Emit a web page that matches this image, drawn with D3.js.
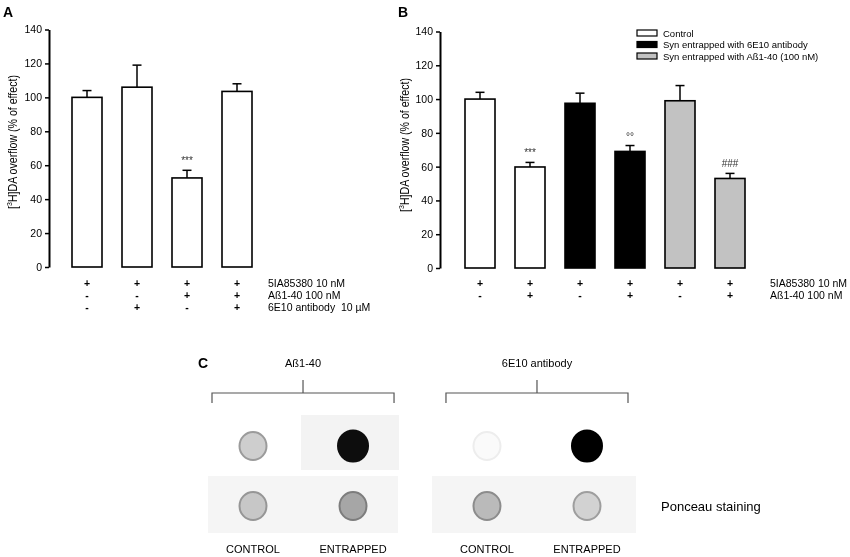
<!DOCTYPE html>
<html lang="en">
<head>
    <meta charset="UTF-8">
    <title>Figure</title>
    <script src="https://d3js.org/d3.v7.min.js"></script>
    <style>
        body {margin: 0; background: white;}
        svg {font-family: Arial, "Liberation Sans", sans-serif; will-change: transform;}
        text {fill: #000;}
    </style>
</head>
<body>
<script>
    const width = 850;
    const height = 557;

    // panel A
    const aBars = ["c1", "c2", "c3", "c4"];
    const aMeans = [100, 106, 52.5, 103.5];
    const aErrors = [4, 13, 4.5, 4.5];
    const aStars = ["", "", "***", ""];
    const aRowLabels = ["5IA85380 10 nM", "Aß1-40 100 nM", "6E10 antibody  10 µM"];
    const aRows = [
        ["+", "+", "+", "+"],
        ["-", "-", "+", "+"],
        ["-", "+", "-", "+"]
    ];

    // panel B
    const bBars = ["b1", "b2", "b3", "b4", "b5", "b6"];
    const bMeans = [100, 59.8, 97.5, 69, 99, 53];
    const bErrors = [4, 2.7, 6, 3.5, 9, 3];
    const bGroup = [0, 0, 1, 1, 2, 2];
    const bStars = ["", "***", "", "°°", "", "###"];
    const bRowLabels = ["5IA85380 10 nM", "Aß1-40 100 nM"];
    const bRows = [
        ["+", "+", "+", "+", "+", "+"],
        ["-", "+", "-", "+", "-", "+"]
    ];
    const legendLabels = ["Control", "Syn entrapped with 6E10 antibody", "Syn entrapped with Aß1-40 (100 nM)"];
    const groupFills = ["#ffffff", "#000000", "#c2c2c2"];

    const yTicks = [0, 20, 40, 60, 80, 100, 120, 140];

    // panel C (dot blot)
    const blotGroups = ["Aß1-40", "6E10 antibody"];
    const blotLanes = ["CONTROL", "ENTRAPPED"];
    const blotTop = [[0.3, 0.95], [0.04, 1.0]];      // signal intensity
    const blotBottom = [[0.33, 0.45], [0.38, 0.28]]; // Ponceau staining

    const svg = d3.select("body").append("svg")
            .attr("width", width).attr("height", height);
    const defs = svg.append("defs");
    defs.append("filter").attr("id", "soft")
            .append("feGaussianBlur").attr("stdDeviation", 0.7);

    function barPanel(opt) {
        const g = svg.append("g");
        const x = d3.scaleBand().domain(opt.bars).range(opt.xRange)
                .paddingInner(0.4).paddingOuter(0.2);
        const y = d3.scaleLinear().domain([0, 140]).range(opt.yRange);

        const axis = g.append("g")
                .attr("transform", `translate(${opt.axisX},0)`)
                .call(d3.axisLeft(y).tickValues(yTicks).tickSize(4).tickSizeOuter(0).tickPadding(3));
        axis.select(".domain").attr("stroke-width", 2);
        axis.selectAll(".tick line").attr("stroke-width", 1.5);
        axis.selectAll("text").attr("font-size", 10.5).attr("fill", "#000");

        // y title
        const t = g.append("text")
                .attr("transform", `translate(${opt.titleX},${opt.titleY}) rotate(-90)`)
                .attr("text-anchor", "middle").attr("font-size", 12)
                .attr("textLength", 134).attr("lengthAdjust", "spacingAndGlyphs");
        t.append("tspan").text("[");
        t.append("tspan").text("3").attr("font-size", 8).attr("dy", -5);
        t.append("tspan").text("H]DA overflow (% of effect)").attr("dy", 5);

        // error bars (upper only)
        opt.bars.forEach((b, i) => {
            const cx = x(b) + x.bandwidth() / 2;
            const top = y(opt.means[i] + opt.errors[i]);
            g.append("line").attr("x1", cx).attr("x2", cx)
                    .attr("y1", y(opt.means[i])).attr("y2", top)
                    .attr("stroke", "#000").attr("stroke-width", 1.5);
            g.append("line").attr("x1", cx - 4.5).attr("x2", cx + 4.5)
                    .attr("y1", top).attr("y2", top)
                    .attr("stroke", "#000").attr("stroke-width", 1.5);
            if (opt.stars[i]) {
                g.append("text").attr("x", cx).attr("y", top - 6)
                        .attr("text-anchor", "middle").attr("font-size", 10)
                        .style("fill", "#333").text(opt.stars[i]);
            }
        });

        g.selectAll("rect.bar").data(opt.bars).enter()
                .append("rect").attr("class", "bar")
                .attr("x", d => x(d))
                .attr("width", x.bandwidth())
                .attr("y", (d, i) => y(opt.means[i]))
                .attr("height", (d, i) => y(0) - y(opt.means[i]))
                .attr("fill", (d, i) => opt.fill(i))
                .attr("stroke", "#000").attr("stroke-width", 1.6);

        // treatment rows
        opt.rows.forEach((row, r) => {
            const ry = opt.rowY + r * 12;
            row.forEach((s, i) => {
                g.append("text").attr("x", x(opt.bars[i]) + x.bandwidth() / 2).attr("y", ry)
                        .attr("text-anchor", "middle").attr("font-size", 10.5)
                        .attr("font-weight", "bold").text(s);
            });
            g.append("text").attr("x", opt.labelX).attr("y", ry)
                    .attr("font-size", 10.5).style("white-space", "pre")
                    .text(opt.rowLabels[r]);
        });

        g.append("text").attr("x", opt.letterX).attr("y", 17)
                .attr("font-size", 14).attr("font-weight", "bold").text(opt.letter);
        return g;
    }

    barPanel({
        bars: aBars, means: aMeans, errors: aErrors, stars: aStars,
        rows: aRows, rowLabels: aRowLabels,
        xRange: [62, 262], yRange: [267, 29.5], axisX: 49,
        titleX: 17, titleY: 142, rowY: 287, labelX: 268,
        letter: "A", letterX: 3, fill: () => "#ffffff"
    });

    const gB = barPanel({
        bars: bBars, means: bMeans, errors: bErrors, stars: bStars,
        rows: bRows, rowLabels: bRowLabels,
        xRange: [455, 755], yRange: [268, 31.5], axisX: 440,
        titleX: 409, titleY: 145, rowY: 287, labelX: 770,
        letter: "B", letterX: 398, fill: i => groupFills[bGroup[i]]
    });

    // legend
    legendLabels.forEach((l, i) => {
        const ly = 33 + i * 11.5;
        gB.append("rect").attr("x", 637).attr("y", ly - 3).attr("width", 20).attr("height", 6)
                .attr("fill", groupFills[i]).attr("stroke", "#000").attr("stroke-width", 1.2);
        gB.append("text").attr("x", 663).attr("y", ly + 3.5)
                .attr("font-size", 9.5).text(l);
    });

    // panel C
    const gC = svg.append("g");
    const gx = d3.scaleBand().domain(blotGroups).range([212, 628]).paddingInner(0.222);
    const lx = d3.scalePoint().domain(blotLanes).range([0, gx.bandwidth()]).padding(0.41);
    const rowY = d3.scalePoint().domain(["top", "bottom"]).range([446, 506]);

    gC.append("text").attr("x", 198).attr("y", 368)
            .attr("font-size", 14).attr("font-weight", "bold").text("C");

    blotGroups.forEach((grp, gi) => {
        const x0 = gx(grp), x1 = x0 + gx.bandwidth(), xm = (x0 + x1) / 2;
        gC.append("text").attr("x", xm).attr("y", 367)
                .attr("text-anchor", "middle").attr("font-size", 11).text(grp);
        gC.append("path")
                .attr("d", `M${x0},403V393H${x1}V403M${xm},393V380`)
                .attr("fill", "none").attr("stroke", "#555").attr("stroke-width", 1.2);

        // membrane strips
        if (gi === 0) {
            gC.append("rect").attr("x", x0 + lx(blotLanes[1]) - 52).attr("y", 415)
                    .attr("width", 98).attr("height", 55).attr("fill", "#f3f3f3");
        }
        gC.append("rect").attr("x", x0 - 4 - gi * 10).attr("y", 476)
                .attr("width", gx.bandwidth() + 8 + gi * 14).attr("height", 57)
                .attr("fill", "#f5f5f5");

        blotLanes.forEach((lane, li) => {
            const cx = x0 + lx(lane);
            [["top", blotTop], ["bottom", blotBottom]].forEach(([row, vals]) => {
                const v = vals[gi][li];
                const fill = d3.interpolateGreys(v);
                const r = v > 0.8 ? 15 : 13.5;
                gC.append("ellipse").attr("cx", cx).attr("cy", rowY(row))
                        .attr("rx", r).attr("ry", r + 0.5)
                        .attr("fill", fill)
                        .attr("stroke", d3.color(fill).darker(v < 0.1 ? 0.15 : 0.8))
                        .attr("stroke-width", 2)
                        .attr("filter", "url(#soft)");
            });
            gC.append("text").attr("x", cx).attr("y", 553)
                    .attr("text-anchor", "middle").attr("font-size", 11).text(lane);
        });
    });

    gC.append("text").attr("x", 661).attr("y", 511)
            .attr("font-size", 13).text("Ponceau staining");
</script>
</body>
</html>
